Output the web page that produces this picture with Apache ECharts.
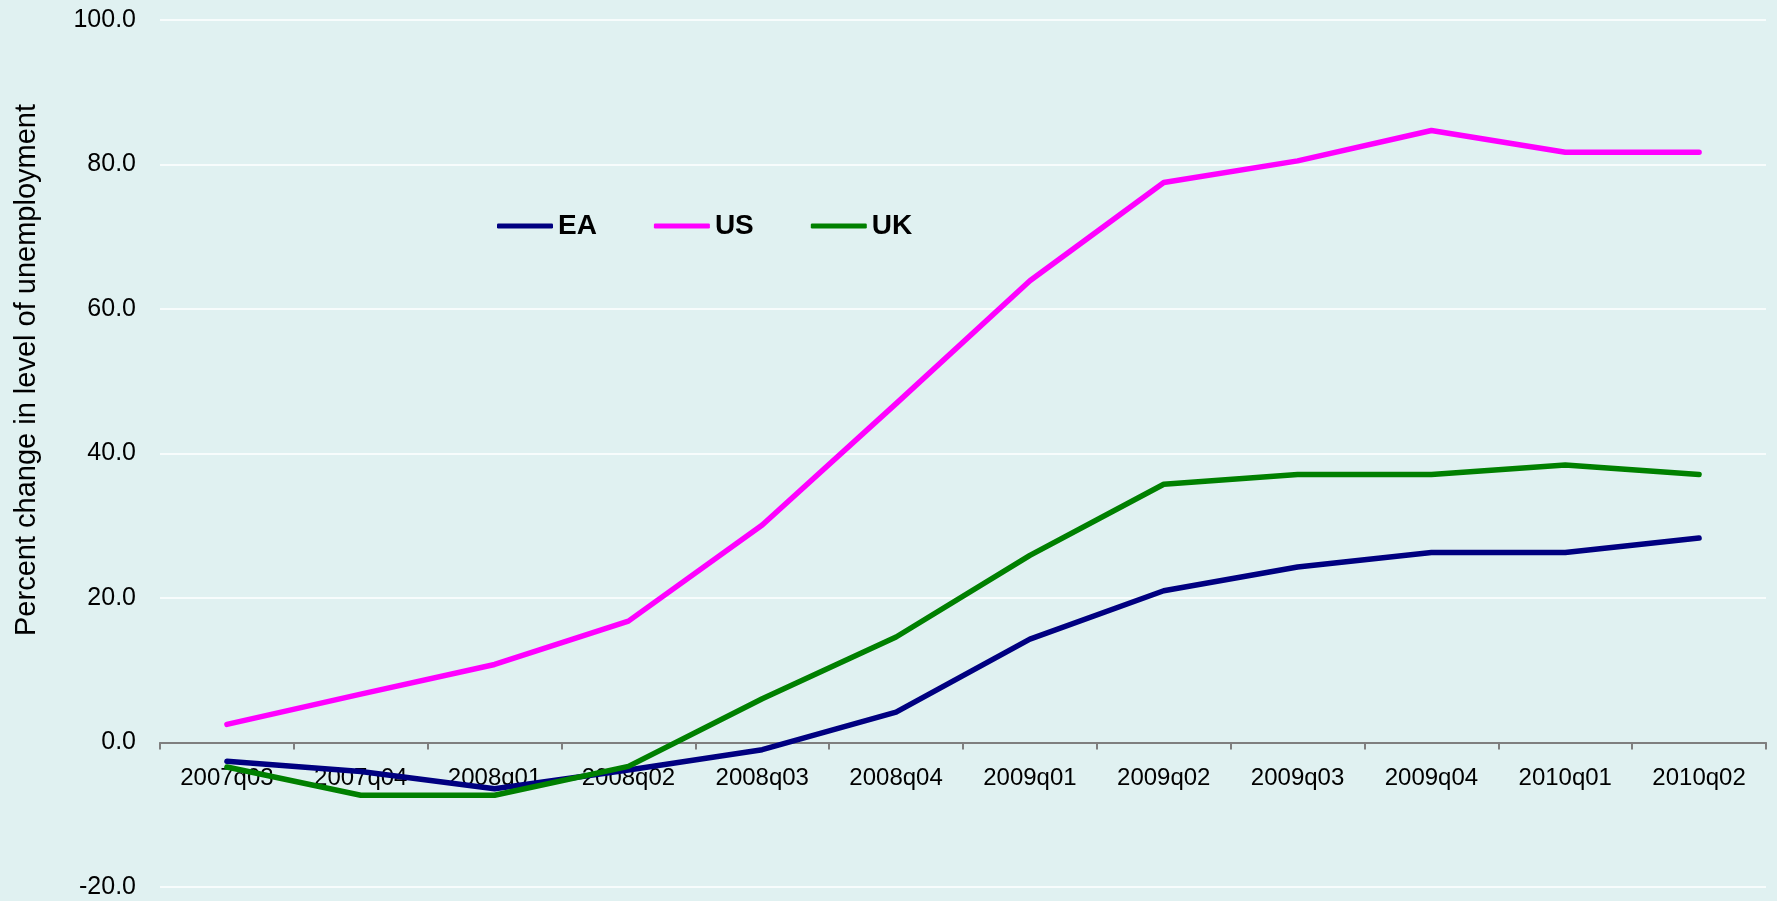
<!DOCTYPE html>
<html>
<head>
<meta charset="utf-8">
<script src="https://cdn.jsdelivr.net/npm/echarts@6/dist/echarts.min.js"></script>
<style>
html,body{margin:0;padding:0;background:#e0f1f1;}
#chart{width:1777px;height:901px;}
</style>
</head>
<body>
<div id="chart"></div>
<script>
var categories = ['2007q03','2007q04','2008q01','2008q02','2008q03','2008q04','2009q01','2009q02','2009q03','2009q04','2010q01','2010q02'];
var eaValues = [-2.6, -4.0, -6.4, -3.8, -1.0, 4.2, 14.3, 21.0, 24.3, 26.3, 26.3, 28.3];
var usValues = [2.5, 6.7, 10.8, 16.8, 30.1, 46.9, 63.9, 77.5, 80.5, 84.7, 81.7, 81.7];
var ukValues = [-3.4, -7.3, -7.3, -3.3, 6.05, 14.6, 25.9, 35.75, 37.1, 37.1, 38.4, 37.1];
var yAxisTitle = 'Percent change in level of unemployment';

var chart = echarts.init(document.getElementById('chart'));
function mk(name, data, color) {
  return {
    name: name, type: 'line', data: data, symbol: 'none',
    lineStyle: { color: color, width: 5.5, cap: 'round', join: 'round' },
    itemStyle: { color: color }
  };
}
var gridTop = 20, gridBottom = 14, yMin = -20, yMax = 100;
var plotH = 901 - gridTop - gridBottom;
var zeroOffset = -plotH * (0 - yMin) / (yMax - yMin);
chart.setOption({
  backgroundColor: '#e0f1f1',
  animation: false,
  grid: { left: 160, right: 11, top: gridTop, bottom: gridBottom, containLabel: false, outerBoundsMode: 'none' },
  legend: {
    left: 492, top: 207,
    icon: 'roundRect',
    itemWidth: 56, itemHeight: 5, itemGap: 57,
    textStyle: { fontFamily: 'Liberation Sans', fontWeight: 'bold', fontSize: 28, color: '#000' },
    data: ['EA', 'US', 'UK']
  },
  graphic: [{
    type: 'text', x: 27, y: 370, rotation: Math.PI / 2,
    style: { text: yAxisTitle, fontFamily: 'Liberation Sans', fontSize: 29, fill: '#000', align: 'center', verticalAlign: 'middle' }
  }],
  xAxis: {
    type: 'category', data: categories, boundaryGap: true,
    offset: zeroOffset,
    axisLine: { onZero: false, lineStyle: { color: '#7f7f7f', width: 2 } },
    axisTick: { show: true, length: 7, alignWithLabel: false, lineStyle: { color: '#7f7f7f', width: 2 } },
    axisLabel: { margin: 24, fontFamily: 'Liberation Sans', fontSize: 24, color: '#000', interval: 0 },
    splitLine: { show: false }
  },
  yAxis: {
    type: 'value', min: yMin, max: yMax, interval: 20,
    axisLine: { show: false }, axisTick: { show: false },
    axisLabel: { margin: 24, fontFamily: 'Liberation Sans', fontSize: 25, color: '#000',
      formatter: function (v) { return v.toFixed(1); } },
    splitLine: { show: true, lineStyle: { color: '#ffffff', width: 1.5 } }
  },
  series: [
    mk('EA', eaValues, '#000080'),
    mk('US', usValues, '#ff00ff'),
    mk('UK', ukValues, '#008000')
  ]
});
</script>
</body>
</html>
